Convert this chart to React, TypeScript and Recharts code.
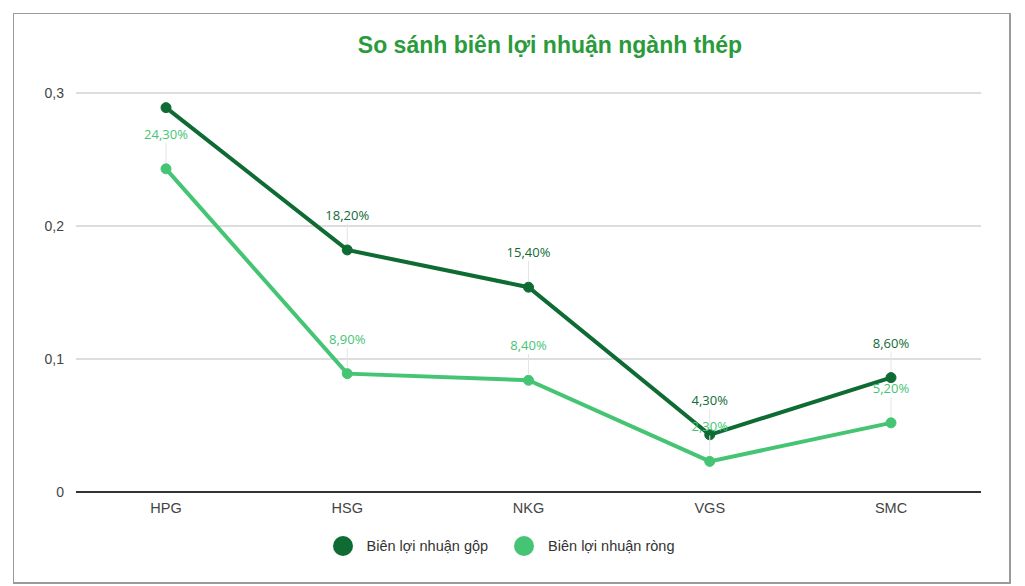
import React from 'react';
import { LineChart, Line, XAxis, YAxis, CartesianGrid, Legend, LabelList } from 'recharts';

const companies = ['HPG', 'HSG', 'NKG', 'VGS', 'SMC'];
const grossMargin = [0.289, 0.182, 0.154, 0.043, 0.086];
const netMargin = [0.243, 0.089, 0.084, 0.023, 0.052];
const yTicks = [0, 0.1, 0.2, 0.3];

const DARK = '#0f6b34';
const LIGHT = '#45c574';
const AXIS_FONT = "'Liberation Sans', Arial, sans-serif";

const data = companies.map((name, i) => ({
  name,
  gop: grossMargin[i],
  rong: netMargin[i],
}));

const pct = (v: number) => (v * 100).toFixed(2).replace('.', ',') + '%';

const makeLabel = (color: string, hidden: number[]) => (props: any) => {
  const { x, y, value, index } = props;
  if (hidden.includes(index)) return null;
  return (
    <g>
      <line x1={x} x2={x} y1={y - 6} y2={y - 26} stroke="#e4e4e4" strokeWidth={1} />
      <text x={x} y={y - 30} textAnchor="middle" fill={color} fontSize={13} fontFamily="'Open Sans', sans-serif">
        {pct(value)}
      </text>
    </g>
  );
};

const LegendContent = () => (
  <div style={{ display: 'flex', justifyContent: 'center', alignItems: 'center', height: 40, paddingTop: 8, boxSizing: 'border-box', fontFamily: AXIS_FONT, fontSize: 14.5, color: '#333' }}>
    {[
      { label: 'Biên lợi nhuận gộp', color: DARK },
      { label: 'Biên lợi nhuận ròng', color: LIGHT },
    ].map((it, i) => (
      <div key={it.label} style={{ display: 'flex', alignItems: 'center', marginLeft: i ? 26 : 0 }}>
        <span style={{ width: 20, height: 20, borderRadius: 10, background: it.color, display: 'inline-block', marginRight: 14 }} />
        <span>{it.label}</span>
      </div>
    ))}
  </div>
);

export default function App() {
  return (
    <div style={{ position: 'relative', margin: '5px 0 0 5px', width: 995, height: 568, border: '1px solid #9a9a9a', borderRightWidth: 2, borderBottomWidth: 2, background: '#fff' }}>
      <div style={{ position: 'absolute', left: 0, width: 1072, top: 18, textAlign: 'center', fontFamily: AXIS_FONT, fontWeight: 'bold', fontSize: 23, color: '#2a9b3b', pointerEvents: 'none' }}>
        So sánh biên lợi nhuận ngành thép
      </div>
      <LineChart width={995} height={568} data={data} margin={{ top: 79, right: 28, left: 12, bottom: 20 }}>
        <CartesianGrid vertical={false} stroke="#d2d2d2" strokeWidth={1.5} />
        <XAxis
          dataKey="name"
          height={30}
          padding={{ left: 90, right: 90 }}
          axisLine={{ stroke: '#333', strokeWidth: 2 }}
          tickLine={false}
          tick={{ fill: '#444', fontSize: 14.5, fontFamily: AXIS_FONT }}
          tickMargin={5}
        />
        <YAxis
          width={50}
          domain={[0, 0.3]}
          ticks={yTicks}
          axisLine={false}
          tickLine={false}
          tickMargin={6}
          tick={{ fill: '#444', fontSize: 14, fontFamily: AXIS_FONT }}
          tickFormatter={(v: number) => String(v).replace('.', ',')}
        />
        <Legend verticalAlign="bottom" height={40} content={<LegendContent />} />
        <Line
          dataKey="gop"
          name="Biên lợi nhuận gộp"
          stroke={DARK}
          strokeWidth={4}
          dot={{ r: 5, fill: DARK, stroke: DARK, strokeWidth: 1 }}
          isAnimationActive={false}
        >
          <LabelList dataKey="gop" content={makeLabel(DARK, [0])} />
        </Line>
        <Line
          dataKey="rong"
          name="Biên lợi nhuận ròng"
          stroke={LIGHT}
          strokeWidth={4}
          dot={{ r: 5, fill: LIGHT, stroke: LIGHT, strokeWidth: 1 }}
          isAnimationActive={false}
        >
          <LabelList dataKey="rong" content={makeLabel(LIGHT, [])} />
        </Line>
      </LineChart>
    </div>
  );
}
